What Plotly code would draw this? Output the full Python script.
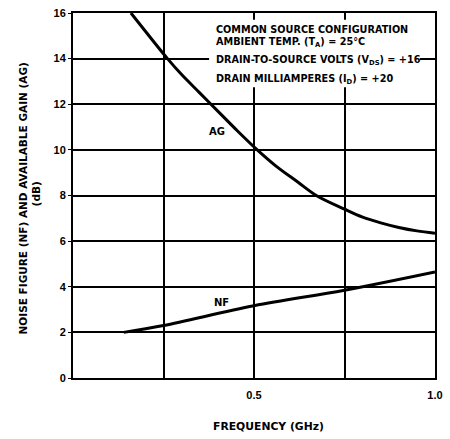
import plotly.graph_objects as go

ag_freq = [0.16, 0.2, 0.261, 0.3, 0.35, 0.4, 0.45, 0.509, 0.56, 0.62, 0.672, 0.75, 0.8, 0.85, 0.9, 0.95, 1.0]
ag_db = [16.0, 15.2, 14.0, 13.3, 12.5, 11.7, 10.9, 10.0, 9.3, 8.6, 8.0, 7.4, 7.05, 6.8, 6.6, 6.45, 6.35]
nf_freq = [0.14, 0.25, 0.5, 0.75, 1.0]
nf_db = [2.0, 2.3, 3.17, 3.85, 4.65]

x_grid = [0.25, 0.5, 0.75, 1.0]
x_labels = ["", "0.5", "", "1.0"]
y_ticks = [0, 2, 4, 6, 8, 10, 12, 14, 16]

notes = [
    ("COMMON SOURCE CONFIGURATION", 15.26),
    ("AMBIENT TEMP. (T<sub>A</sub>) = 25°C", 14.7),
    ("DRAIN-TO-SOURCE VOLTS (V<sub>DS</sub>) = +16", 13.9),
    ("DRAIN MILLIAMPERES (I<sub>D</sub>) = +20", 13.07),
]

FONT = "Liberation Sans"
WIDE = "DejaVu Sans"
fig = go.Figure()
fig.add_trace(go.Scatter(x=ag_freq, y=ag_db, mode="lines", line=dict(color="black", width=3, shape="spline"), showlegend=False))
fig.add_trace(go.Scatter(x=nf_freq, y=nf_db, mode="lines", line=dict(color="black", width=3, shape="spline"), showlegend=False))

fig.add_shape(type="rect", xref="x", yref="y", x0=0.376, x1=0.958, y0=12.74, y1=15.7,
              fillcolor="white", line=dict(width=0), layer="between")

for txt, yv in notes:
    fig.add_annotation(x=0.389, y=yv, xref="x", yref="y", text=txt, showarrow=False,
                       xanchor="left", yanchor="middle",
                       font=dict(family=WIDE, size=9.7, color="black", weight="bold"))

fig.add_annotation(x=0.397, y=10.8, text="AG", showarrow=False,
                   font=dict(family=WIDE, size=10, color="black", weight="bold"))
fig.add_annotation(x=0.41, y=3.3, text="NF", showarrow=False,
                   font=dict(family=WIDE, size=10, color="black", weight="bold"))

fig.add_annotation(x=-0.138, y=0.492, xref="paper", yref="paper", xanchor="center", yanchor="middle",
                   text="NOISE FIGURE (NF) AND AVAILABLE GAIN (AG)", textangle=-90, showarrow=False,
                   font=dict(family=WIDE, size=10.5, color="black", weight="bold"))
fig.add_annotation(x=-0.103, y=0.505, xref="paper", yref="paper", xanchor="center", yanchor="middle",
                   text="(dB)", textangle=-90, showarrow=False,
                   font=dict(family=WIDE, size=10.5, color="black", weight="bold"))
fig.add_annotation(x=0.54, y=-0.133, xref="paper", yref="paper", xanchor="center", yanchor="middle",
                   text="FREQUENCY (GHz)", showarrow=False,
                   font=dict(family=WIDE, size=10.8, color="black", weight="bold"))

fig.update_xaxes(range=[0, 1.0], tickvals=x_grid, ticktext=x_labels, showgrid=True,
                 gridcolor="black", gridwidth=1.5, zeroline=False,
                 showline=True, linecolor="black", linewidth=2, mirror=True,
                 ticks="", ticklabelstandoff=6, ticklabeloverflow="allow",
                 tickfont=dict(family=FONT, size=11, color="black", weight="bold"))
fig.update_yaxes(range=[0, 16], tickvals=y_ticks, showgrid=True,
                 gridcolor="black", gridwidth=1.5, zeroline=False,
                 showline=True, linecolor="black", linewidth=2, mirror=True,
                 ticks="outside", ticklen=3, tickcolor="black",
                 tickfont=dict(family=FONT, size=11, color="black", weight="bold"))

fig.update_layout(width=450, height=439, margin=dict(l=73, r=7, t=10, b=61),
                  plot_bgcolor="white", paper_bgcolor="white")
fig.write_html("out.html")
